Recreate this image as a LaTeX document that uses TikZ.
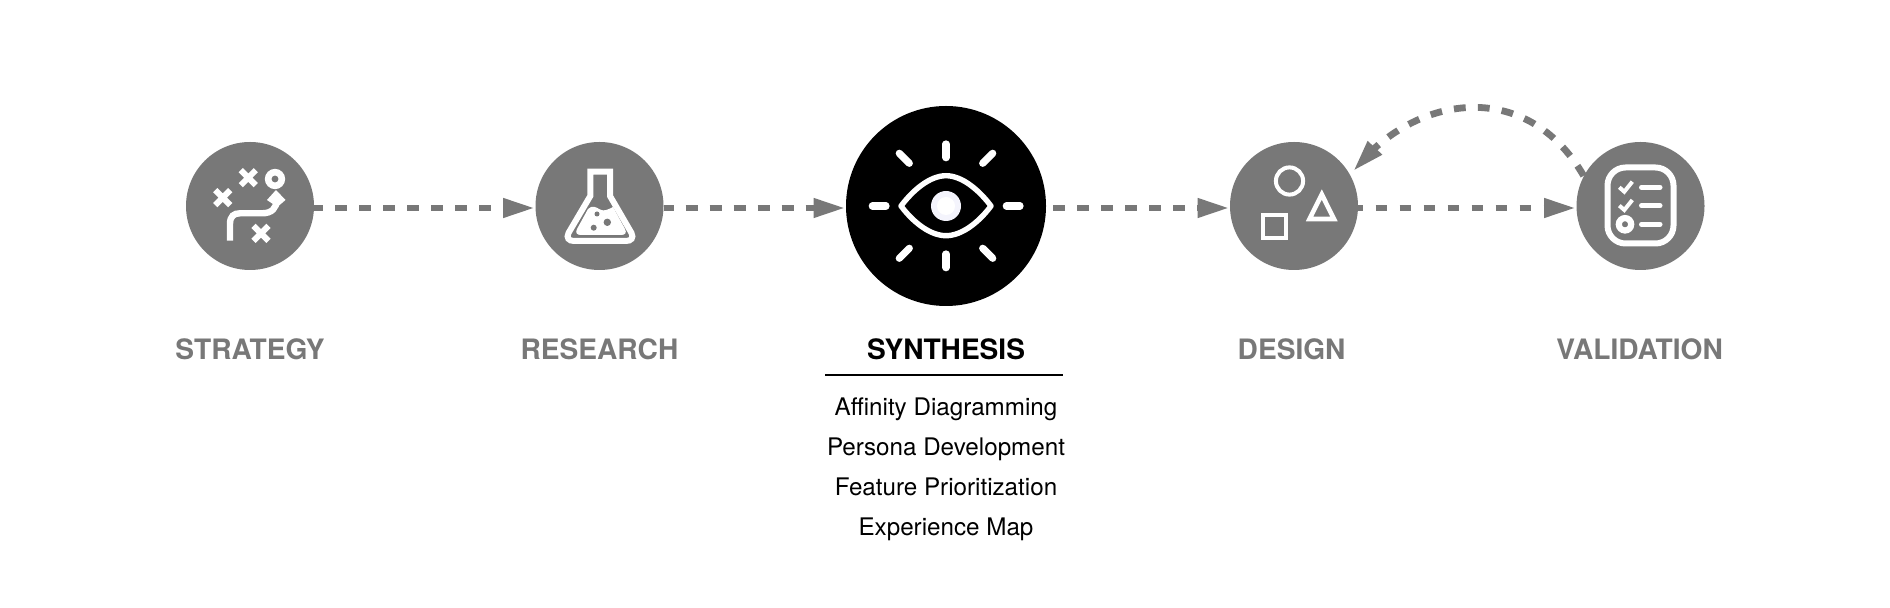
\documentclass[tikz,border=0pt]{standalone}
\usepackage{fontspec}
\setmainfont{TeX Gyre Heros}
\usetikzlibrary{arrows.meta,bending}
\definecolor{stagegray}{HTML}{787878}
\definecolor{pupil}{HTML}{F4F4FC}
\tikzset{
  stage/.style={circle,fill=stagegray,draw=none,inner sep=0pt,minimum size=64pt},
  hub/.style={circle,fill=black,draw=none,inner sep=0pt,minimum size=100pt},
  title/.style={anchor=base,inner sep=0pt,font=\fontsize{14.05}{16}\selectfont\bfseries,text=stagegray},
  titleblack/.style={title,text=black},
  item/.style={anchor=base,inner sep=0pt,font=\fontsize{12.1}{14}\selectfont,text=black},
  flow/.style={draw=stagegray,line width=3.4pt,dash pattern=on 5.9pt off 6.1pt,
    -{Triangle[length=16pt,width=9pt,fill=stagegray]}},
  icon/.style={draw=white,line width=3pt},
  cross/.style={draw=white,line width=3pt},
  ray/.style={draw=white,line width=3.6pt,line cap=round},
  thin line/.style={draw=white,line width=2.5pt,line cap=round},
}
\newcommand{\crossmark}[2]{\draw[cross] (#1-7.5,#2-7.5) -- (#1+7.5,#2+7.5) (#1-7.5,#2+7.5) -- (#1+7.5,#2-7.5);}
\begin{document}
\begin{tikzpicture}[x=0.5pt,y=-0.5pt]
\useasboundingbox (0,0) rectangle (1890,608);
\fill[white] (0,0) rectangle (1890,608);
% stages
\node[stage] (strategy) at (250,206) {};
\node[stage] (research) at (599.5,206) {};
\node[hub] (synthesis) at (946,206) {};
\node[stage] (design) at (1294,206) {};
\node[stage] (validation) at (1640.5,206) {};
% connectors
\draw[flow,dash phase=1.6pt] ([yshift=-1pt]strategy.east) -- ([yshift=-1pt]research.west);
\draw[flow,dash phase=1.1pt] ([yshift=-1pt]research.east) -- ([yshift=-1pt]synthesis.west);
\draw[flow,shorten <=3.3pt] ([yshift=-1pt]synthesis.east) -- ([yshift=-1pt]design.west);
\draw[flow,dash phase=3.4pt] ([yshift=-1pt]design.east) -- ([yshift=-1pt]validation.west);
\draw[flow,shorten >=2.3pt] (validation.152) .. controls (1525,75) and (1410,95) .. (design.29);
% strategy icon
\crossmark{248.3}{177.7}
\crossmark{222.7}{197.7}
\crossmark{261}{233.3}
\draw[draw=white,line width=3.3pt] (275,179) circle[radius=3.4pt];
\draw[draw=white,line width=3.2pt] (230,240.7) -- (230,224) .. controls (230,216) and (234,213.3) .. (240,213.3)
  -- (262,213.3) .. controls (272,213.3) and (276.5,208) .. (276.7,200);
\fill[white] (276,190) -- (285.5,200) -- (277.3,207) -- (267,200) -- cycle;
% flask icon
\draw[icon,line join=miter] (590.3,196) -- (590.3,171.7) -- (610,171.7) -- (610,196)
  -- (631.5,233) .. controls (634,238) and (631,241) .. (626,241) -- (574,241)
  .. controls (569,241) and (566,238) .. (568.5,233) -- cycle;
\fill[white] (588,209) .. controls (592,205) and (596,207) .. (600,209.5)
  .. controls (604,212) and (609,209) .. (613,207) -- (625,229)
  .. controls (627,233) and (625,235) .. (621,235) -- (581,235)
  .. controls (577,235) and (575,233) .. (577,229) -- cycle;
\fill[stagegray] (597,214) circle[radius=1.25pt] (607.3,222.3) circle[radius=1.85pt] (593.7,227.7) circle[radius=1.5pt];
% eye icon
\draw[ray] (946,144) -- (946,157.7);
\draw[ray] (946,254) -- (946,267.7);
\draw[ray] (872.3,206) -- (886,206);
\draw[ray] (1006.3,206) -- (1020,206);
\draw[ray] (899.3,153.3) -- (909.3,163.3);
\draw[ray] (992.7,153.3) -- (982.7,163.3);
\draw[ray] (899.3,258.3) -- (909.3,248.3);
\draw[ray] (992.7,258.3) -- (982.7,248.3);
\draw[draw=white,line width=2.7pt,line join=round]
  (901,206) .. controls (913,190) and (930,175.7) .. (946,175.7)
  .. controls (962,175.7) and (979,190) .. (991,206)
  .. controls (979,222) and (962,235.7) .. (946,235.7)
  .. controls (930,235.7) and (913,222) .. (901,206) -- cycle;
\fill[pupil] (946,206) circle[radius=7.5pt];
\fill[white] (946,206) circle[radius=4.5pt];
% design icon
\draw[draw=white,line width=2pt] (1289.5,181) circle[radius=6.8pt];
\draw[draw=white,line width=2.3pt,line join=miter] (1321.8,194.5) -- (1334,219) -- (1309.5,219) -- cycle;
\draw[draw=white,line width=2pt] (1263,215.3) rectangle (1286.3,238);
% validation icon
\draw[icon,rounded corners=9pt] (1607.5,167.5) rectangle (1673.5,243.5);
\draw[draw=white,line width=2pt] (1619.3,187.3) -- (1624.3,191.7) -- (1632.3,181.7);
\draw[draw=white,line width=2pt] (1619.3,205.6) -- (1624.3,210) -- (1632.3,200);
\draw[thin line] (1641.5,187.3) -- (1660,187.3);
\draw[thin line] (1641.5,205.7) -- (1660,205.7);
\draw[thin line] (1641.5,224.3) -- (1660,224.3);
\draw[draw=white,line width=3.1pt] (1625,224.3) circle[radius=3.1pt];
% labels
\node[title] (lstrategy) at (250,359.2) {STRATEGY};
\node[title] (lresearch) at (599.5,360) {RESEARCH};
\node[titleblack] (lsynthesis) at (946,360) {SYNTHESIS};
\node[title] (ldesign) at (1291.6,360) {DESIGN};
\node[title] (lvalidation) at (1639.5,360) {VALIDATION};
\coordinate (ruleL) at (825,374.7);
\coordinate (ruleR) at (1063,374.7);
\draw[black,line width=1pt] (ruleL) -- (ruleR);
\node[item] (i1) at (946,416) {Affinity Diagramming};
\node[item] (i2) at (946,456) {Persona Development};
\node[item] (i3) at (946,495.7) {Feature Prioritization};
\node[item] (i4) at (946,535.7) {Experience Map};
\end{tikzpicture}
\end{document}
